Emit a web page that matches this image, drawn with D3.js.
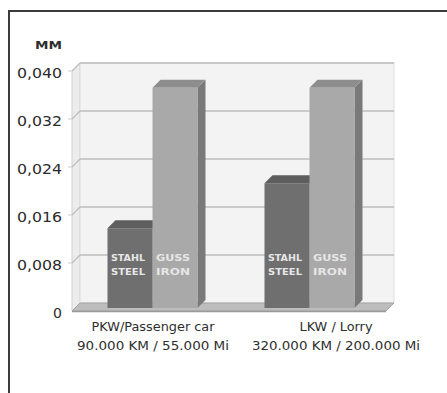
<!DOCTYPE html>
<html><head><meta charset="utf-8">
<script src="https://cdn.jsdelivr.net/npm/d3@7"></script>
<style>
html,body{margin:0;padding:0;background:#fff;}
svg{display:block;}
text{font-family:"DejaVu Sans",sans-serif;fill:#2e2e2e;}
</style></head>
<body>
<svg id="c" width="447" height="393"></svg>
<script>
// ---- data ----
const categories = ["PKW", "LKW"];
const categoryLine1 = ["PKW/Passenger car", "LKW / Lorry"];
const categoryLine2 = ["90.000 KM / 55.000 Mi", "320.000 KM / 200.000 Mi"];
const series = ["steel", "iron"];
const seriesLine1 = ["STAHL", "GUSS"];
const seriesLine2 = ["STEEL", "IRON"];
const steelValues = [0.0133, 0.0208];
const ironValues  = [0.0367, 0.0367];
const yTicks = [0, 0.008, 0.016, 0.024, 0.032, 0.040];
const unitLabel = "MM";

// ---- layout ----
const svg = d3.select("#c");
const depth = 8;
const barDepth = 8;
const plotLeft = 72, plotRight = 386;
const frontZero = 311, frontTop = 71;

const y = d3.scaleLinear().domain([0, 0.04]).range([frontZero, frontTop]);
const x0 = d3.scaleBand().domain(categories).range([plotLeft + 2, plotRight + 2]);
const x1 = d3.scaleBand().domain(series).range([0, 90]);
const labelX = d3.scalePoint().domain(categories).range([153, 336]);

// frame
svg.append("rect").attr("x", 9).attr("y", 11).attr("width", 460).attr("height", 420)
  .attr("fill", "none").attr("stroke", "#3c3c3c").attr("stroke-width", 2);

// side wall
const bx = plotLeft + depth, by = -depth;
svg.append("path")
  .attr("d", `M${plotLeft},${y(0)}L${plotLeft},${y(0.04)}L${bx},${y(0.04)+by}L${bx},${y(0)+by}Z`)
  .attr("fill", "#ececec").attr("stroke", "#d0d0d0");
// back wall
svg.append("rect").attr("x", bx).attr("y", y(0.04) + by)
  .attr("width", plotRight - plotLeft).attr("height", y(0) - y(0.04))
  .attr("fill", "#f3f3f3").attr("stroke", "#dedede");

// gridlines
const grid = svg.append("g");
yTicks.filter(t => t > 0).forEach(t => {
  grid.append("line").attr("x1", bx).attr("x2", plotRight + depth)
    .attr("y1", y(t) + by).attr("y2", y(t) + by)
    .attr("stroke", "#bcbcbc").attr("stroke-width", 1.5);
  grid.append("line").attr("x1", plotLeft).attr("x2", bx)
    .attr("y1", y(t)).attr("y2", y(t) + by)
    .attr("stroke", "#bcbcbc").attr("stroke-width", 1.2);
  grid.append("line").attr("x1", plotLeft - 4).attr("x2", plotLeft)
    .attr("y1", y(t)).attr("y2", y(t))
    .attr("stroke", "#cfcfcf");
});

// floor
svg.append("path")
  .attr("d", `M${plotLeft},${y(0)}L${plotRight},${y(0)}L${plotRight+depth},${y(0)+by}L${bx},${y(0)+by}Z`)
  .attr("fill", "#bdbdbd").attr("stroke", "#a4a4a4");
svg.append("line").attr("x1", plotLeft).attr("x2", plotRight)
  .attr("y1", y(0) + 0.5).attr("y2", y(0) + 0.5).attr("stroke", "#9a9a9a").attr("stroke-width", 1.5);

// bars
const colors = {
  steel: {front: "#6f6f6f", top: "#5e5e5e", side: "#555"},
  iron:  {front: "#a9a9a9", top: "#8d8d8d", side: "#797979"}
};
const barZero = frontZero - 3;
const yb = v => barZero - (y(0) - y(v));
const vals = {steel: steelValues, iron: ironValues};
const bars = svg.append("g");
categories.forEach((c, ci) => {
  const gx = x0(c) + (x0.bandwidth() - 90) / 2;
  series.forEach((s, si) => {
    const v = vals[s][ci];
    const xl = gx + x1(s), xr = xl + x1.bandwidth();
    const yt = yb(v), y0b = yb(0);
    const col = colors[s];
    bars.append("path")
      .attr("d", `M${xr},${y0b}L${xr},${yt}L${xr+barDepth},${yt-barDepth}L${xr+barDepth},${y0b-barDepth}Z`)
      .attr("fill", col.side);
    bars.append("path")
      .attr("d", `M${xl},${yt}L${xl+barDepth},${yt-barDepth}L${xr+barDepth},${yt-barDepth}L${xr},${yt}Z`)
      .attr("fill", col.top);
    bars.append("rect").attr("x", xl).attr("y", yt).attr("width", xr - xl).attr("height", y0b - yt)
      .attr("fill", col.front);
    const lines = [seriesLine1[si], seriesLine2[si]];
    lines.forEach((t, li) => {
      bars.append("text").attr("x", (xl + xr) / 2 - 2).attr("y", 261 + li * 14)
        .attr("text-anchor", "middle").attr("font-size", 8.5).attr("font-weight", "bold")
        .attr("textLength", 34).attr("lengthAdjust", "spacingAndGlyphs")
        .style("fill", "#e6e6e6")
        .text(t);
    });
  });
});

// y axis labels
const loc = d3.formatLocale({decimal: ",", thousands: ".", grouping: [3], currency: ["", ""]});
const f3 = loc.format(".3f");
const axis = d3.axisLeft(d3.scaleLinear().domain([0, 0.04]).range([313, 73]))
  .tickValues(yTicks).tickSize(0).tickPadding(0)
  .tickFormat(d => d === 0 ? "0" : f3(d));
const ag = svg.append("g").attr("transform", "translate(62,0)").call(axis);
ag.select(".domain").remove();
ag.selectAll("text").attr("font-size", 14).style("font-family", "'DejaVu Sans',sans-serif").style("fill", "#2a2a2a")
  .each(function(d){ if (d !== 0) d3.select(this).attr("textLength", 45).attr("lengthAdjust", "spacingAndGlyphs"); });

// unit label
svg.append("text").attr("x", 62).attr("y", 49).attr("text-anchor", "end")
  .attr("font-size", 11).attr("font-weight", "bold")
  .attr("textLength", 27).attr("lengthAdjust", "spacingAndGlyphs").text(unitLabel);

// category labels
const l1Len = [123, 73], l2Len = [152, 168];
categories.forEach((c, i) => {
  svg.append("text").attr("x", labelX(c)).attr("y", 331).attr("text-anchor", "middle")
    .attr("font-size", 12).attr("textLength", l1Len[i]).attr("lengthAdjust", "spacingAndGlyphs").text(categoryLine1[i]);
  svg.append("text").attr("x", labelX(c)).attr("y", 350).attr("text-anchor", "middle")
    .attr("font-size", 12).attr("textLength", l2Len[i]).attr("lengthAdjust", "spacingAndGlyphs").text(categoryLine2[i]);
});
</script>
</body></html>
